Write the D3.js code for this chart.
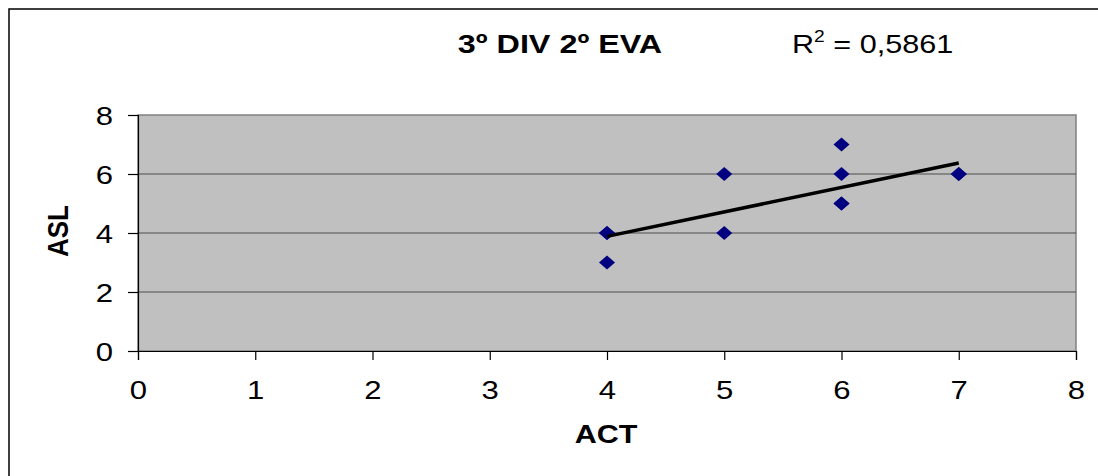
<!DOCTYPE html>
<html>
<head>
<meta charset="utf-8">
<script src="https://cdn.jsdelivr.net/npm/d3@7/dist/d3.min.js"></script>
<style>
  html, body { margin: 0; padding: 0; background: #fff; }
  svg { display: block; font-family: "Liberation Sans", Arial, sans-serif; }
</style>
</head>
<body>
<svg id="chart" width="1098" height="476"></svg>
<script>
// ACT / ASL pairs (repeated pairs are listed once per student)
const actValues = [4, 4, 4, 5, 5, 6, 6, 6, 6, 7, 7];
const aslValues = [4, 4, 3, 6, 4, 7, 6, 5, 5, 6, 6];
const xTicks = [0, 1, 2, 3, 4, 5, 6, 7, 8];
const yTicks = [0, 2, 4, 6, 8];
const titleText = "3º DIV 2º EVA";
const xTitle = "ACT";
const yTitle = "ASL";

const svg = d3.select("#chart");
const W = 1098, H = 476;
const m = { left: 138, right: 1076, top: 115, bottom: 351 };
const WIDEN = 1.22; // horizontal widening of the lettering

// Moves a text's x/y into a transform and widens it horizontally around its anchor
function widen(sel, k) {
  sel.each(function () {
    const t = d3.select(this);
    const tx = +t.attr("x") || 0, ty = +t.attr("y") || 0;
    t.attr("x", 0).attr("y", 0)
     .attr("transform", `translate(${tx},${ty}) scale(${k},1)`);
  });
}

// Chart frame
svg.append("rect")
  .attr("x", 9).attr("y", 9)
  .attr("width", W + 20).attr("height", H + 20)
  .attr("fill", "#fff").attr("stroke", "#000").attr("stroke-width", 1.5);

const x = d3.scaleLinear().domain([0, 8]).range([m.left, m.right]);
const y = d3.scaleLinear().domain([0, 8]).range([m.bottom, m.top]);

// Plot area
svg.append("rect")
  .attr("x", m.left).attr("y", m.top)
  .attr("width", m.right - m.left).attr("height", m.bottom - m.top)
  .attr("fill", "#c0c0c0").attr("stroke", "#808080").attr("stroke-width", 1.5);

// Horizontal gridlines
svg.append("g")
  .selectAll("line")
  .data(yTicks.filter(t => t > 0 && t < 8))
  .join("line")
  .attr("x1", m.left).attr("x2", m.right)
  .attr("y1", d => y(d)).attr("y2", d => y(d))
  .attr("stroke", "#4d4d4d").attr("stroke-width", 1.2);

// Axes
const xAxis = svg.append("g")
  .attr("transform", `translate(0,${m.bottom})`)
  .call(d3.axisBottom(x).tickValues(xTicks).tickSize(9).tickPadding(21).tickFormat(d3.format("d")));
const yAxis = svg.append("g")
  .attr("transform", `translate(${m.left},0)`)
  .call(d3.axisLeft(y).tickValues(yTicks).tickSize(10).tickPadding(15).tickFormat(d3.format("d")));

[xAxis, yAxis].forEach(g => {
  g.select(".domain").attr("stroke", "#000").attr("stroke-width", 1.2);
  g.selectAll(".tick line").attr("stroke", "#000").attr("stroke-width", 1.2);
  g.selectAll(".tick text")
    .attr("fill", "#000")
    .style("font-size", "25.5px")
    .style("font-family", "'Liberation Sans', Arial, sans-serif");
});
yAxis.selectAll(".tick text").attr("dy", "0.36em");
widen(xAxis.selectAll(".tick text"), WIDEN);
widen(yAxis.selectAll(".tick text"), WIDEN);

// Least-squares trendline
const n = actValues.length;
const mx = d3.mean(actValues), my = d3.mean(aslValues);
let sxx = 0, sxy = 0, syy = 0;
for (let i = 0; i < n; i++) {
  sxx += (actValues[i] - mx) ** 2;
  sxy += (actValues[i] - mx) * (aslValues[i] - my);
  syy += (aslValues[i] - my) ** 2;
}
const slope = sxy / sxx;
const intercept = my - slope * mx;
const r2 = (sxy * sxy) / (sxx * syy);
const [xMin, xMax] = d3.extent(actValues);

// Markers
const pts = actValues.map((v, i) => [v, aslValues[i]]);
svg.append("g")
  .selectAll("path")
  .data(pts)
  .join("path")
  .attr("transform", d => `translate(${x(d[0])},${y(d[1])})`)
  .attr("d", "M0,-7 L8,0 L0,7 L-8,0 Z")
  .attr("fill", "#000080");

svg.append("line")
  .attr("x1", x(xMin)).attr("y1", y(intercept + slope * xMin))
  .attr("x2", x(xMax)).attr("y2", y(intercept + slope * xMax))
  .attr("stroke", "#000").attr("stroke-width", 3.5);

// Titles
svg.append("text")
  .attr("transform", `translate(560,53) scale(${WIDEN},1)`)
  .attr("text-anchor", "middle")
  .style("font-size", "26.5px").style("font-weight", "bold")
  .text(titleText);

const r2Text = svg.append("text")
  .attr("transform", `translate(792,53) scale(${WIDEN - 0.02},1)`)
  .style("font-size", "25.5px");
r2Text.append("tspan").text("R");
r2Text.append("tspan").attr("dy", -11).style("font-size", "16px").text("2");
r2Text.append("tspan").attr("dy", 11).text(" = " + r2.toFixed(4).replace(".", ","));

svg.append("text")
  .attr("transform", `translate(606,443) scale(${WIDEN},1)`)
  .attr("text-anchor", "middle")
  .style("font-size", "25px").style("font-weight", "bold")
  .text(xTitle);

svg.append("text")
  .attr("transform", "translate(68,231) rotate(-90) scale(1,1.1)")
  .attr("text-anchor", "middle")
  .style("font-size", "26px").style("font-weight", "bold")
  .text(yTitle);
</script>
</body>
</html>
